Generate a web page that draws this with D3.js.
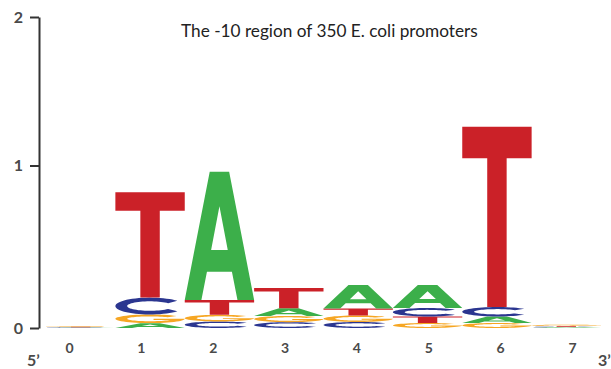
<!DOCTYPE html>
<html>
<head>
<meta charset="utf-8">
<script src="https://cdn.jsdelivr.net/npm/d3@7"></script>
<style>
  html, body { margin: 0; padding: 0; background: #fff; }
  svg { display: block; }
</style>
</head>
<body>
<script>
// Information content (bits) per position for each base, -10 region logo
const positions = [0, 1, 2, 3, 4, 5, 6, 7];
const bitsA = [0.002, 0.030, 0.789, 0.047, 0.145, 0.142, 0.040, 0.004];
const bitsC = [0.003, 0.104, 0.040, 0.036, 0.037, 0.052, 0.058, 0.004];
const bitsG = [0.004, 0.053, 0.041, 0.038, 0.040, 0.031, 0.031, 0.007];
const bitsT = [0.003, 0.648, 0.092, 0.125, 0.043, 0.040, 1.132, 0.005];
const bitTicks = [0, 1, 2];
const positionLabels = ["0", "1", "2", "3", "4", "5", "6", "7"];
const bases = ["A", "C", "G", "T"];
const baseBits = { A: bitsA, C: bitsC, G: bitsG, T: bitsT };
const baseColor = { A: "#3caf4a", C: "#2b3690", G: "#f6a623", T: "#cb2128" };
const titleText = "The -10 region of 350 E. coli promoters";

const W = 611, H = 369;
const FONT = "Lato, 'Open Sans', sans-serif";

const svg = d3.select("body").append("svg")
  .attr("width", W).attr("height", H);

const x = d3.scaleBand().domain(positions).range([46, 601]).padding(0);
const xLabel = d3.scalePoint().domain(positions).range([69, 572]);
const y = d3.scaleLinear().domain(bitTicks).range([328, 165.5, 17]);

// Glyph outlines in a unit box: u runs left->right, v runs bottom->top
function arc(cx, cy, rx, ry, a0, a1, n) {
  const pts = [];
  for (let i = 0; i <= n; i++) {
    const a = (a0 + (a1 - a0) * i / n) * Math.PI / 180;
    pts.push([cx + rx * Math.cos(a), cy + ry * Math.sin(a)]);
  }
  return pts;
}
const RXO = 0.5, RYO = 0.5, RXI = 0.33, RYI = 0.28;
const glyphs = {
  T: [[[0, 1], [1, 1], [1, 0.825], [0.64, 0.825], [0.64, 0], [0.36, 0], [0.36, 0.825], [0, 0.825]]],
  A: [
    [[0, 0], [0.36, 1], [0.64, 1], [1, 0], [0.76, 0], [0.68, 0.22], [0.32, 0.22], [0.24, 0]],
    [[0.38, 0.39], [0.5, 0.73], [0.62, 0.39]]
  ],
  C: [
    arc(0.5, 0.5, RXO, RYO, 38, 322, 48).concat(arc(0.5, 0.5, RXI, RYI, 322, 38, 48))
  ],
  G: [
    arc(0.5, 0.5, RXO, RYO, 40, 360, 48)
      .concat([[0.55, 0.5], [0.55, 0.36], [0.5 + RXI * Math.cos(-30 * Math.PI / 180), 0.36]])
      .concat(arc(0.5, 0.5, RXI, RYI, 330, 40, 48))
  ]
};

const line = d3.line();

// Stacked letters: smallest at the bottom, largest on top
const stacks = positions.map((p, i) => {
  const items = bases.map(b => ({ base: b, bits: baseBits[b][i] }))
    .sort((a, b) => a.bits - b.bits);
  let cum = 0;
  items.forEach(d => { d.lo = cum; cum += d.bits; d.hi = cum; d.pos = p; });
  return items;
});

const logo = svg.append("g").attr("class", "logo");
logo.selectAll("g.col").data(stacks).join("g").attr("class", "col")
  .selectAll("path").data(d => d).join("path")
  .attr("fill", d => baseColor[d.base])
  .attr("fill-rule", "evenodd")
  .attr("d", d => {
    const x0 = x(d.pos), w = x.bandwidth();
    const yb = y(d.lo), yt = y(d.hi), h = yb - yt;
    return glyphs[d.base].map(poly =>
      line(poly.map(([u, v]) => [x0 + u * w, yb - v * h])) + "Z").join("");
  });

// Bits axis
const yAxis = svg.append("g").attr("transform", "translate(39,0)")
  .call(d3.axisLeft(y).tickValues(bitTicks).tickSize(9).tickSizeOuter(0)
    .tickPadding(7).tickFormat(d3.format("d")));
yAxis.select(".domain").attr("stroke", "#333").attr("stroke-width", 2);
yAxis.selectAll(".tick line").attr("stroke", "#333").attr("stroke-width", 2);
yAxis.selectAll(".tick text")
  .attr("font-family", FONT).attr("font-size", 16).attr("font-weight", 700)
  .attr("fill", "#4a4a4a");

// Position axis
const xAxis = svg.append("g").attr("transform", "translate(0,343)")
  .call(d3.axisBottom(xLabel).tickSize(0).tickPadding(0)
    .tickFormat((d, i) => positionLabels[i]));
xAxis.select(".domain").remove();
xAxis.selectAll(".tick text")
  .attr("font-family", FONT).attr("font-size", 14).attr("font-weight", 700)
  .attr("fill", "#4a4a4a");

// Strand ends
svg.append("text").attr("x", 27).attr("y", 366)
  .attr("font-family", FONT).attr("font-size", 16).attr("font-weight", 700)
  .attr("fill", "#4a4a4a").text("5\u2019");
svg.append("text").attr("x", 598).attr("y", 366)
  .attr("font-family", FONT).attr("font-size", 16).attr("font-weight", 700)
  .attr("fill", "#4a4a4a").text("3\u2019");

// Title
const title = svg.append("text").attr("x", 181).attr("y", 37)
  .attr("font-family", FONT).attr("font-size", 14)
  .attr("fill", "#222").text(titleText);
const tw = title.node().getComputedTextLength();
title.attr("font-size", 14 * 297 / tw);
</script>
</body>
</html>
